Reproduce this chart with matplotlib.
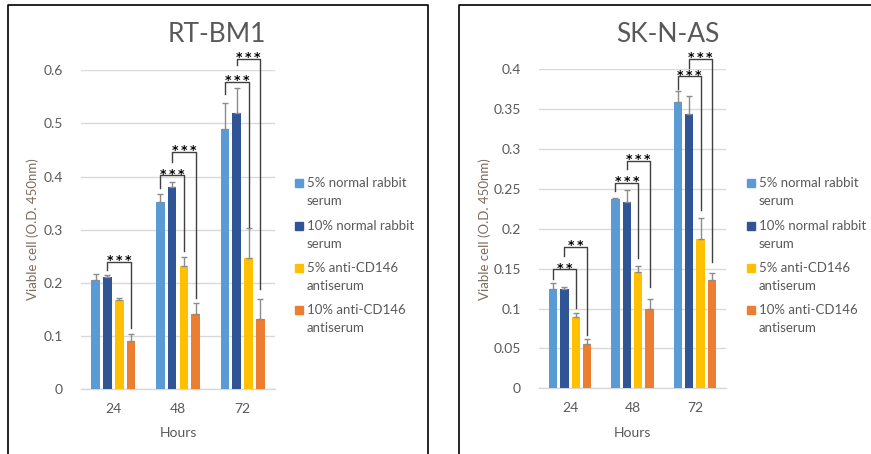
import matplotlib
matplotlib.use("Agg")
import matplotlib.pyplot as plt
from matplotlib.patches import Rectangle
from matplotlib.lines import Line2D
import numpy as np

plt.rcParams['font.family'] = ['Lato', 'DejaVu Sans']

# ---- data -------------------------------------------------------------
hours = ['24', '48', '72']
series_labels = ['5% normal rabbit\nserum', '10% normal rabbit\nserum',
                 '5% anti-CD146\nantiserum', '10% anti-CD146\nantiserum']
colors = ['#5B9BD5', '#2F5597', '#FFC000', '#ED7D31']

# RT-BM1
rt_means = [
    [0.205, 0.352, 0.489],   # 5% normal rabbit serum
    [0.210, 0.381, 0.520],   # 10% normal rabbit serum
    [0.168, 0.231, 0.247],   # 5% anti-CD146 antiserum
    [0.090, 0.141, 0.132],   # 10% anti-CD146 antiserum
]
rt_err = [
    [0.011, 0.015, 0.050],
    [0.004, 0.009, 0.047],
    [0.004, 0.018, 0.056],
    [0.014, 0.020, 0.038],
]
# (hour index, series a, series b, bracket top, left leg end, right leg end, label)
rt_sig = [
    (0, 1, 3, 0.239, 0.224, 0.115, '***'),
    (1, 0, 2, 0.402, 0.379, 0.259, '***'),
    (1, 1, 3, 0.446, 0.428, 0.171, '***'),
    (2, 0, 2, 0.578, 0.555, 0.305, '***'),
    (2, 1, 3, 0.621, 0.610, 0.188, '***'),
]

# SK-N-AS
sk_means = [
    [0.124, 0.237, 0.359],
    [0.124, 0.234, 0.344],
    [0.089, 0.146, 0.187],
    [0.056, 0.099, 0.136],
]
sk_err = [
    [0.008, 0.002, 0.014],
    [0.003, 0.015, 0.022],
    [0.005, 0.007, 0.026],
    [0.006, 0.013, 0.009],
]
sk_sig = [
    (0, 0, 2, 0.149, 0.137, 0.101, '**'),
    (0, 1, 3, 0.177, 0.166, 0.067, '**'),
    (1, 0, 2, 0.258, 0.248, 0.164, '***'),
    (1, 1, 3, 0.285, 0.275, 0.127, '***'),
    (2, 0, 2, 0.391, 0.375, 0.224, '***'),
    (2, 1, 3, 0.413, 0.402, 0.158, '***'),
]

# ---- layout -------------------------------------------------------------
W, H = 871, 454
fig = plt.figure(figsize=(W / 100, H / 100), dpi=100)

TXT = '#595959'
YLAB = '#7d6b5b'
GRID = '#d9d9d9'
step = 0.182
width = 0.135
offsets = (np.arange(4) - 1.5) * step


def px_axes(x0, x1, ytop, ybot):
    return fig.add_axes([x0 / W, 1 - ybot / H, (x1 - x0) / W, (ybot - ytop) / H])


def panel(ax, means, errs, sig, title, ymax, ystep, fmt, title_x, ylab_x, leg_x):
    x = np.arange(len(hours))
    for i in range(4):
        ax.bar(x + offsets[i], means[i], width, color=colors[i], zorder=3)
        ax.errorbar(x + offsets[i], means[i],
                    yerr=[np.zeros(len(hours)), errs[i]],
                    fmt='none', ecolor='#8c8c8c', elinewidth=1.0,
                    capsize=2.5, capthick=1.0, zorder=4)
    ax.set_xlim(-0.5, 2.5)
    ax.set_ylim(0, ymax)
    ticks = np.arange(0, ymax + ystep / 2, ystep)
    ax.set_yticks(ticks)
    ax.set_yticklabels([fmt(t) for t in ticks])
    ax.set_xticks(x)
    ax.set_xticklabels(hours)
    ax.tick_params(length=0, labelsize=10, labelcolor=TXT)
    ax.tick_params(axis='y', pad=13)
    ax.tick_params(axis='x', pad=10)
    ax.grid(axis='y', color=GRID, lw=1, zorder=0)
    ax.set_axisbelow(True)
    for s in ['top', 'right', 'left']:
        ax.spines[s].set_visible(False)
    ax.spines['bottom'].set_color(GRID)
    ax.spines['bottom'].set_linewidth(1)
    ax.set_xlabel('Hours', fontsize=10, color=TXT, labelpad=9)

    # significance brackets
    for (h, a, b, top, la, rb, lab) in sig:
        xa = h + offsets[a]
        xb = h + offsets[b]
        ax.plot([xa, xa, xb, xb], [la, top, top, rb], color='#404040',
                lw=1.0, clip_on=False, zorder=5)
        ax.annotate('\u2009'.join(lab), xy=((xa + xb) / 2, top),
                    xytext=(0, -1.5), textcoords='offset points',
                    ha='center', va='baseline', fontsize=9,
                    fontweight='bold', color='black',
                    family='DejaVu Sans', annotation_clip=False)

    fig.text(title_x / W, 1 - 34 / H, title, ha='center', va='center',
             fontsize=19, color=TXT)
    fig.text(ylab_x / W, 1 - 229 / H, 'Viable cell (O.D. 450nm)', rotation=90,
             ha='center', va='center', fontsize=9.5, color=YLAB)

    # legend
    line_y = [183, 226, 268, 310]
    for i in range(4):
        fig.add_artist(Rectangle((leg_x / W, 1 - (line_y[i] + 4) / H),
                                 8 / W, 8 / H, transform=fig.transFigure,
                                 color=colors[i]))
        first, second = series_labels[i].split('\n')
        fig.text((leg_x + 12) / W, 1 - line_y[i] / H, first, ha='left',
                 va='center', fontsize=9.5, color=TXT)
        fig.text((leg_x + 12) / W, 1 - (line_y[i] + 17.5) / H, second,
                 ha='left', va='center', fontsize=9.5, color=TXT)


ax1 = px_axes(81, 275, 70.3, 389)
panel(ax1, rt_means, rt_err, rt_sig, 'RT-BM1', 0.6, 0.1,
      lambda t: '0' if t == 0 else f'{t:.1f}', 217, 33, 294.5)

ax2 = px_axes(539, 726, 69.3, 388.3)
panel(ax2, sk_means, sk_err, sk_sig, 'SK-N-AS', 0.4, 0.05,
      lambda t: '0' if t == 0 else f'{t:.2f}'.rstrip('0'), 668, 485, 746.5)

# panel frames
for xs, ys in [([8, 8, 427.5, 427.5], [H, 4.5, 4.5, H]),
               ([459, 459, W], [H, 4.5, 4.5])]:
    fig.add_artist(Line2D([x / W for x in xs], [1 - y / H for y in ys],
                          transform=fig.transFigure, color='black', lw=1.2))

fig.savefig('out.png', dpi=100)
